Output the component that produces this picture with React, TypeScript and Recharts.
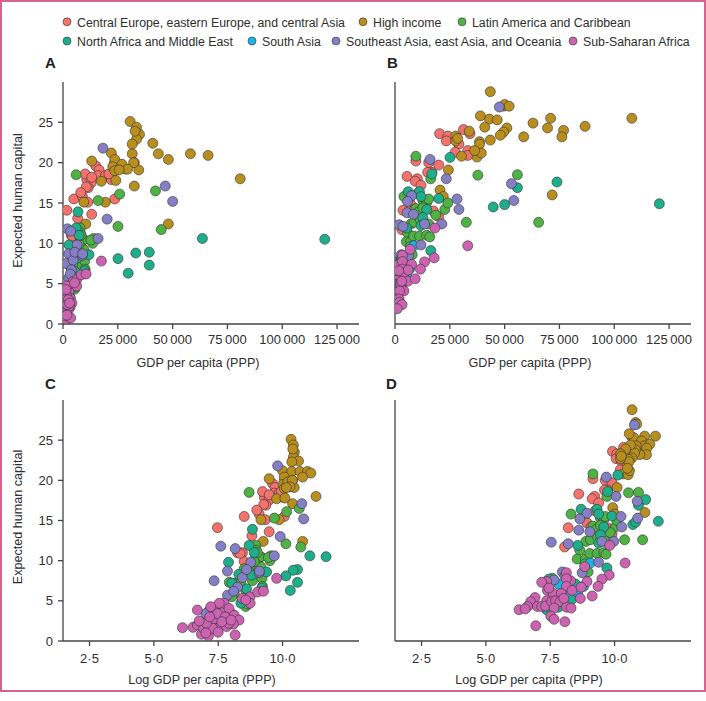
import { ScatterChart, Scatter, XAxis, YAxis } from 'recharts'

// points are [log GDP per capita (PPP), expected human capital]
type Pt = [number, number]

const regionNames = [
  'Central Europe, eastern Europe, and central Asia',
  'High income',
  'Latin America and Caribbean',
  'North Africa and Middle East',
  'South Asia',
  'Southeast Asia, east Asia, and Oceania',
  'Sub-Saharan Africa',
]
const regionColors = ['#f3726c', '#b88f1f', '#4fb245', '#1fae8b', '#1ab4e8', '#8580c5', '#cb63b1']

const yTicks = [0, 5, 10, 15, 20, 25]
const gdpTicks = [0, 25000, 50000, 75000, 100000, 125000]
const logTicks = [2.5, 5, 7.5, 10]

// panels A and C
const cenEurEarly: Pt[] = [
  [9.61, 19.6], [9.71, 19.1], [9.68, 18.4], [9.87, 18.4], [9.29, 17.9], [9.46, 17.5], [9.35, 16.9],
  [8.51, 15.5], [9.09, 15.8], [9.33, 15.1], [10.07, 15.5], [7.47, 14.1], [9.48, 13.6], [8.81, 13.1],
  [8.25, 11.0], [8.44, 11.0], [8.51, 9.9], [9.16, 10.5], [9.22, 18.6], [9.48, 18.2], [10.0, 17.9],
  [9.95, 18.6], [9.27, 17.0], [8.35, 10.9], [9.0, 16.3], [10.06, 19.9],
]
const highIncEarly: Pt[] = [
  [10.33, 25.1], [10.42, 24.4], [10.46, 23.5], [10.42, 22.9], [10.62, 22.4], [10.36, 22.3], [10.0, 21.2],
  [10.36, 21.1], [10.68, 21.1], [10.97, 21.1], [11.1, 20.9], [10.78, 20.4], [10.07, 20.4], [9.48, 20.2],
  [10.39, 20.0], [10.03, 19.5], [10.26, 19.2], [10.07, 19.0], [9.77, 17.7], [10.09, 17.8], [10.39, 17.1],
  [11.3, 18.0], [9.16, 15.1], [9.87, 15.1], [9.25, 12.4], [10.78, 12.4], [10.2, 19.8], [10.45, 19.1],
  [10.4, 23.9], [10.38, 20.0], [10.29, 19.2], [10.15, 19.1],
]
const latinEarly: Pt[] = [
  [8.7, 18.5], [10.16, 16.1], [9.68, 15.3], [10.65, 16.5], [10.71, 11.7], [10.13, 12.1], [8.96, 11.9],
  [8.98, 11.3], [8.94, 10.8], [9.12, 10.4], [9.55, 10.6], [9.51, 10.0], [8.51, 9.0], [8.81, 9.3],
  [9.07, 9.4], [9.16, 9.2], [8.7, 8.6], [8.83, 7.5], [9.2, 7.8], [7.93, 7.3], [8.12, 7.2], [8.25, 7.0],
  [8.38, 7.4], [8.57, 6.3], [9.22, 6.8], [8.57, 4.3], [8.12, 5.9], [8.03, 5.5], [8.64, 4.6], [8.9, 9.9],
  [9.02, 11.0], [9.45, 10.4],
]
const nafmeEarly: Pt[] = [
  [8.83, 13.9], [8.7, 11.9], [11.06, 10.6], [11.69, 10.5], [10.58, 8.9], [10.41, 8.8], [10.13, 8.1],
  [10.58, 7.3], [10.3, 6.3], [7.9, 9.8], [8.03, 7.2], [9.38, 8.6], [9.2, 6.6], [8.6, 6.5], [8.38, 4.7],
  [7.6, 2.9], [7.9, 2.3], [7.08, 1.45], [8.8, 8.2], [8.3, 8.3], [8.9, 11.0],
]
const southAsiaEarly: Pt[] = [[7.17, 2.3], [7.99, 2.8], [7.3, 2.1], [8.05, 3.3], [7.6, 2.6]]
const seAsiaEarly: Pt[] = [
  [9.81, 21.8], [10.75, 17.1], [10.82, 15.2], [9.91, 13.0], [7.6, 11.8], [8.16, 11.5], [7.86, 8.7],
  [7.34, 7.5], [8.77, 9.8], [9.09, 8.5], [9.68, 10.6], [8.44, 7.9], [8.25, 6.7], [7.86, 5.7], [7.15, 3.8],
  [7.41, 4.1], [7.02, 3.4], [8.1, 6.2], [8.6, 8.9], [7.7, 3.3], [9.1, 8.7],
]
const ssAfEarly: Pt[] = [
  [6.11, 1.66], [6.69, 3.85], [6.52, 1.7], [6.69, 2.0], [6.89, 2.2], [6.85, 0.83], [7.12, 0.62],
  [6.93, 1.57], [7.34, 2.7], [7.41, 1.58], [7.6, 1.87], [7.7, 3.65], [7.34, 3.85], [7.73, 4.7],
  [7.92, 4.06], [8.12, 3.2], [8.31, 2.6], [8.09, 2.1], [7.83, 1.8], [8.16, 0.75], [8.44, 5.3],
  [8.74, 5.5], [8.74, 4.7], [9.03, 6.1], [9.26, 6.2], [9.77, 7.8], [7.28, 1.58], [7.04, 2.2],
  [6.76, 2.5], [7.47, 3.4], [7.17, 3.0], [7.77, 3.0], [7.92, 2.2], [7.54, 4.7], [7.21, 4.27],
  [7.64, 2.4], [8.57, 5.1], [7.02, 1.0], [7.5, 1.1], [8.0, 2.6],
]

// panels B and D
const cenEurLate: Pt[] = [
  [9.92, 23.6], [10.09, 23.3], [10.35, 24.1], [10.06, 22.7], [10.26, 22.5], [10.28, 22.3], [10.41, 21.5],
  [10.41, 20.9], [9.64, 20.0], [9.9, 19.7], [9.16, 20.2], [9.73, 18.8], [9.61, 18.8], [8.61, 18.3],
  [9.23, 18.0], [9.13, 17.7], [9.38, 17.2], [8.8, 15.5], [9.25, 16.2], [8.2, 14.1], [8.93, 14.7],
  [9.09, 14.2], [9.77, 14.0], [9.9, 13.3], [8.06, 11.7], [10.22, 21.3], [10.44, 23.6],
]
const highIncLate: Pt[] = [
  [10.68, 28.8], [10.81, 27.0], [10.82, 27.2], [10.86, 27.0], [10.67, 25.4], [10.75, 25.3], [10.57, 25.8],
  [11.17, 25.5], [11.59, 25.5], [11.05, 24.9], [11.15, 24.3], [11.37, 24.5], [11.25, 24.0], [11.24, 23.2],
  [10.98, 23.2], [10.84, 24.3], [10.81, 23.8], [10.78, 23.4], [10.68, 22.8], [10.56, 22.6], [10.56, 22.3],
  [10.62, 24.4], [10.43, 23.9], [10.32, 20.8], [10.53, 20.7], [10.58, 21.2], [10.5, 21.5], [10.23, 23.3],
  [10.23, 22.7], [10.26, 23.0], [10.1, 19.1], [9.93, 16.6], [10.0, 15.8], [11.18, 16.0],
]
const latinLate: Pt[] = [
  [9.16, 20.8], [9.7, 18.0], [10.54, 18.45], [10.93, 18.5], [8.31, 15.8], [9.45, 15.3], [9.58, 15.05],
  [9.64, 15.5], [9.16, 14.3], [10.03, 14.2], [9.83, 13.5], [9.28, 13.9], [10.39, 12.6], [11.09, 12.6],
  [10.09, 15.0], [8.65, 11.3], [8.89, 12.4], [9.06, 12.6], [9.64, 12.4], [8.55, 10.2], [8.87, 10.2],
  [9.04, 10.9], [9.32, 10.9], [9.58, 11.0], [9.67, 10.8], [8.97, 8.6], [7.58, 7.8], [9.34, 13.0],
  [9.45, 14.4], [8.85, 9.6],
]
const nafmeLate: Pt[] = [
  [10.13, 20.65], [9.73, 18.6], [10.93, 16.9], [11.21, 17.6], [8.7, 16.4], [9.32, 16.4], [9.38, 15.8],
  [9.9, 15.55], [10.71, 14.5], [10.82, 14.8], [11.7, 14.9], [9.58, 14.2], [9.45, 13.2], [8.57, 11.9],
  [9.38, 12.2], [9.7, 9.1], [8.48, 7.1], [7.45, 7.7], [7.36, 3.9], [7.81, 4.2], [8.35, 5.2],
]
const southAsiaLate: Pt[] = [[9.06, 9.7], [7.84, 7.05], [8.22, 6.4], [8.8, 6.8], [8.57, 6.0]]
const seAsiaLate: Pt[] = [
  [10.77, 26.9], [9.68, 20.4], [10.06, 18.0], [10.88, 17.4], [8.93, 15.9], [8.65, 15.2], [10.25, 15.5],
  [10.28, 14.2], [8.61, 13.8], [9.97, 12.4], [7.54, 12.3], [8.2, 12.1], [9.51, 12.4], [9.38, 9.8],
  [7.97, 8.6], [8.07, 8.1], [8.74, 8.5], [7.65, 7.6], [9.04, 13.6], [10.9, 15.3],
]
const ssAfLate: Pt[] = [
  [9.81, 11.9], [10.41, 9.7], [8.13, 8.5], [8.84, 9.25], [9.79, 8.2], [7.36, 7.4], [7.17, 7.3],
  [8.29, 7.5], [8.13, 7.75], [8.13, 6.8], [8.93, 7.4], [9.51, 7.7], [9.36, 6.8], [7.39, 6.3],
  [7.62, 5.9], [7.93, 5.9], [8.35, 6.3], [8.7, 6.7], [8.67, 5.3], [9.13, 5.6], [6.91, 5.4],
  [6.74, 4.9], [6.62, 4.3], [6.29, 3.9], [6.53, 4.0], [7.0, 4.3], [7.17, 4.3], [7.36, 5.0],
  [7.32, 4.35], [7.56, 4.9], [7.71, 5.0], [7.88, 4.9], [8.13, 4.2], [8.31, 4.1], [7.65, 4.1],
  [7.52, 3.1], [7.65, 2.7], [8.07, 2.4], [6.94, 1.9], [8.03, 5.3], [7.45, 6.6],
]

const earlySeries = [cenEurEarly, highIncEarly, latinEarly, nafmeEarly, southAsiaEarly, seAsiaEarly, ssAfEarly]
const lateSeries = [cenEurLate, highIncLate, latinLate, nafmeLate, southAsiaLate, seAsiaLate, ssAfLate]

const AXIS = '#444'
const TXT = '#2e2e2e'

const fmtGdp = (v: number) => (v === 0 ? '0' : String(v).replace(/(\d)(?=(\d{3})+$)/g, '$1\u2009'))
const fmtLog = (v: number) => v.toFixed(1).replace('.', '\u00b7')

const dot = (color: string) => (p: any) =>
  p.cx == null ? <g /> : <circle cx={p.cx} cy={p.cy} r={5} fill={color} stroke="#333" strokeWidth={0.6} />

function Panel(props: {
  series: Pt[][]
  log: boolean
  left: number
  top: number
  width: number
  yWidth: number
  right: number
  xHeight: number
  tickMargin: number
  showY: boolean
}) {
  const { series, log, left, top, width, yWidth, right, xHeight, tickMargin, showY } = props
  return (
    <div style={{ position: 'absolute', left, top }}>
      <ScatterChart width={width} height={320} margin={{ top: 32, right, bottom: 0, left: 0 }}>
        <XAxis
          type="number"
          dataKey="x"
          domain={log ? [1.47, 12.97] : [0, 135000]}
          ticks={log ? logTicks : gdpTicks}
          tickFormatter={log ? fmtLog : fmtGdp}
          interval={0}
          allowDataOverflow
          height={xHeight}
          tickSize={5}
          tickMargin={tickMargin}
          axisLine={{ stroke: AXIS, strokeWidth: 1.3 }}
          tickLine={{ stroke: AXIS, strokeWidth: 1.3 }}
          tick={{ fill: TXT, fontSize: 13 }}
        />
        <YAxis
          type="number"
          dataKey="y"
          domain={[0, 30]}
          ticks={yTicks}
          interval={0}
          allowDataOverflow
          width={yWidth}
          tickSize={5}
          tickMargin={5}
          axisLine={{ stroke: AXIS, strokeWidth: 1.3 }}
          tickLine={{ stroke: AXIS, strokeWidth: 1.3 }}
          tick={showY ? { fill: TXT, fontSize: 13 } : false}
        />
        {series.map((pts, i) => (
          <Scatter
            key={regionNames[i]}
            name={regionNames[i]}
            data={pts.map(([lg, hc]) => ({ x: log ? lg : Math.exp(lg), y: hc }))}
            shape={dot(regionColors[i])}
            isAnimationActive={false}
          />
        ))}
      </ScatterChart>
    </div>
  )
}

const legendRows = [
  { y: 21.8, items: [[0, 67], [1, 363], [2, 462]] },
  { y: 41, items: [[3, 67], [4, 252], [5, 336], [6, 573]] },
]

export default function App() {
  return (
    <div
      style={{
        position: 'absolute',
        left: 0,
        top: 0,
        width: 706,
        height: 701,
        background: '#fff',
        fontFamily: '"Liberation Sans", Arial, sans-serif',
      }}
    >
      <div
        style={{
          position: 'absolute',
          left: 0,
          top: 0,
          width: 706,
          height: 692,
          border: '2px solid #d5648c',
          boxSizing: 'border-box',
        }}
      />
      <Panel series={earlySeries} log={false} left={0} top={50} width={370} yWidth={63} right={11} xHeight={46} tickMargin={6} showY />
      <Panel series={lateSeries} log={false} left={353} top={50} width={348} yWidth={42} right={10} xHeight={46} tickMargin={6} showY={false} />
      <Panel series={earlySeries} log left={0} top={368} width={370} yWidth={63} right={11} xHeight={47} tickMargin={8} showY />
      <Panel series={lateSeries} log left={353} top={368} width={348} yWidth={42} right={10} xHeight={47} tickMargin={8} showY={false} />
      <svg width={706} height={701} style={{ position: 'absolute', left: 0, top: 0, pointerEvents: 'none' }}>
        {legendRows.map((row) =>
          row.items.map(([idx, cx]) => (
            <g key={idx}>
              <circle cx={cx} cy={row.y} r={4} fill={regionColors[idx]} stroke="#333" strokeWidth={0.6} />
              <text x={cx + 10} y={row.y + 4.8} fontSize={12.3} fill={TXT}>
                {regionNames[idx]}
              </text>
            </g>
          )),
        )}
        <g fontSize={15} fontWeight="bold" fill="#222">
          <text x={45} y={68}>A</text>
          <text x={387} y={68}>B</text>
          <text x={45} y={389}>C</text>
          <text x={386} y={389}>D</text>
        </g>
        <g fontSize={12.6} fill={TXT} textAnchor="middle">
          <text x={22} y={200.5} transform="rotate(-90 22 200.5)">Expected human capital</text>
          <text x={22} y={517} transform="rotate(-90 22 517)">Expected human capital</text>
          <text x={198} y={367}>GDP per capita (PPP)</text>
          <text x={530} y={367}>GDP per capita (PPP)</text>
          <text x={202} y={684}>Log GDP per capita (PPP)</text>
          <text x={529} y={684}>Log GDP per capita (PPP)</text>
        </g>
      </svg>
    </div>
  )
}
